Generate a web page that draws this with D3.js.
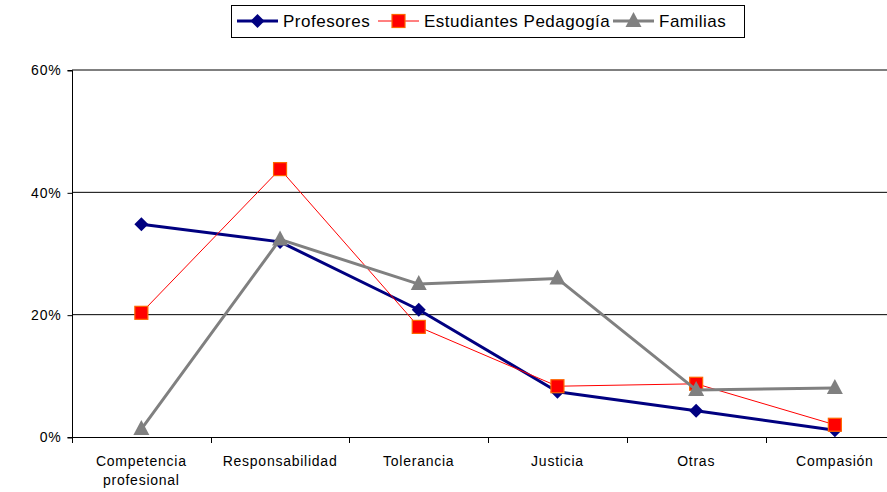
<!DOCTYPE html>
<html lang="es">
<head>
<meta charset="UTF-8">
<title>Valores</title>
<script src="https://d3js.org/d3.v7.min.js"></script>
<style>
    body { margin: 0; background: #fff; }
    svg { display: block; font-family: "Liberation Sans", Arial, sans-serif; }
</style>
</head>
<body>
<div id="chart"></div>
<script>
// data (percent)
const categories = ["Competencia profesional", "Responsabilidad", "Tolerancia", "Justicia", "Otras", "Compasión"];
const profesores = [34.8, 31.9, 20.8, 7.4, 4.3, 1.1];
const estudiantes = [20.3, 43.8, 18.0, 8.3, 8.7, 2.0];
const familias = [1.3, 32.3, 25.0, 25.9, 7.7, 8.0];
const yTicks = [0, 20, 40, 60];

const width = 887, height = 492;
const plotLeft = 72, plotTop = 70, plotBottom = 437;
const band = 138.7;

const svg = d3.select("#chart").append("svg")
    .attr("width", width).attr("height", height);

const x = d3.scaleBand().domain(categories)
    .range([plotLeft, plotLeft + band * categories.length]);
const y = d3.scaleLinear().domain([0, 60]).range([plotBottom, plotTop]);

// gridlines
svg.append("g").selectAll("line")
    .data(yTicks.filter(d => d > 0))
    .join("line")
    .attr("x1", plotLeft).attr("x2", width)
    .attr("y1", d => y(d)).attr("y2", d => y(d))
    .attr("stroke", "#000").attr("stroke-width", 1);

// y axis
const yAxis = d3.axisLeft(y).tickValues(yTicks).tickSize(5).tickFormat(d => d + "%");
svg.append("g")
    .attr("transform", `translate(${plotLeft + 0.5},0.5)`)
    .call(yAxis)
    .call(g => g.select(".domain").attr("d", `M-5,${Math.round(plotTop)}H0V${Math.round(plotBottom)}H-5`))
    .call(g => g.selectAll("line").attr("stroke", "#000"))
    .call(g => g.selectAll("text").attr("font-size", 14).attr("letter-spacing", 0.8)
        .attr("fill", "#000").attr("x", -11));

// x axis
svg.append("line")
    .attr("x1", plotLeft).attr("x2", width)
    .attr("y1", plotBottom + 0.5).attr("y2", plotBottom + 0.5)
    .attr("stroke", "#000");

svg.append("g").selectAll("line")
    .data(d3.range(categories.length + 1))
    .join("line")
    .attr("x1", i => Math.round(plotLeft + i * band) + 0.5)
    .attr("x2", i => Math.round(plotLeft + i * band) + 0.5)
    .attr("y1", plotBottom).attr("y2", plotBottom + 6)
    .attr("stroke", "#000");

const xl = svg.append("g").selectAll("text")
    .data(categories)
    .join("text")
    .attr("text-anchor", "middle")
    .attr("font-size", 14)
    .attr("letter-spacing", 0.75)
    .attr("fill", "#000");
xl.each(function (d) {
    const words = d === "Competencia profesional" ? ["Competencia", "profesional"] : [d];
    const t = d3.select(this);
    words.forEach((w, i) => {
        t.append("tspan")
            .attr("x", x(d) + x.bandwidth() / 2)
            .attr("y", 466 + i * 19)
            .text(w);
    });
});

const cx = d => x(d) + x.bandwidth() / 2;

const series = [
    { name: "Profesores", values: profesores, color: "#000080", width: 3, marker: "diamond" },
    { name: "Estudiantes Pedagogía", values: estudiantes, color: "#FF0000", width: 1, marker: "square" },
    { name: "Familias", values: familias, color: "#808080", width: 3, marker: "triangle" }
];

const line = d3.line().x((v, i) => cx(categories[i])).y(v => y(v));

function drawMarker(g, type, px, py) {
    if (type === "diamond") {
        g.append("path")
            .attr("d", `M${px},${py - 7}L${px + 7},${py}L${px},${py + 7}L${px - 7},${py}Z`)
            .attr("fill", "#000080");
    } else if (type === "square") {
        g.append("rect")
            .attr("x", px - 6.5).attr("y", py - 6.5)
            .attr("width", 13).attr("height", 13)
            .attr("fill", "#FF0000").attr("stroke", "#FF6600").attr("stroke-width", 1.2);
    } else {
        g.append("path")
            .attr("d", `M${px},${py - 9}L${px + 8},${py + 6}L${px - 8},${py + 6}Z`)
            .attr("fill", "#808080");
    }
}

series.forEach(s => {
    const g = svg.append("g");
    g.append("path")
        .attr("d", line(s.values))
        .attr("fill", "none")
        .attr("stroke", s.color)
        .attr("stroke-width", s.width)
        .attr("stroke-linejoin", "round");
    s.values.forEach((v, i) => drawMarker(g, s.marker, cx(categories[i]), y(v)));
});

// legend
const legend = svg.append("g");
legend.append("rect")
    .attr("x", 231.5).attr("y", 5.5)
    .attr("width", 513).attr("height", 32)
    .attr("fill", "#fff").attr("stroke", "#000").attr("stroke-width", 1);

const legendX = [237, 378, 613];
series.forEach((s, i) => {
    const lx = legendX[i], ly = 21;
    const g = legend.append("g");
    g.append("line")
        .attr("x1", lx).attr("x2", lx + 41)
        .attr("y1", ly).attr("y2", ly)
        .attr("stroke", s.color).attr("stroke-width", s.width);
    drawMarker(g, s.marker, lx + 20.5, ly);
    g.append("text")
        .attr("x", lx + 46).attr("y", ly + 6)
        .attr("font-size", 17)
        .attr("letter-spacing", 0.5)
        .attr("fill", "#000")
        .text(s.name);
});
</script>
</body>
</html>
